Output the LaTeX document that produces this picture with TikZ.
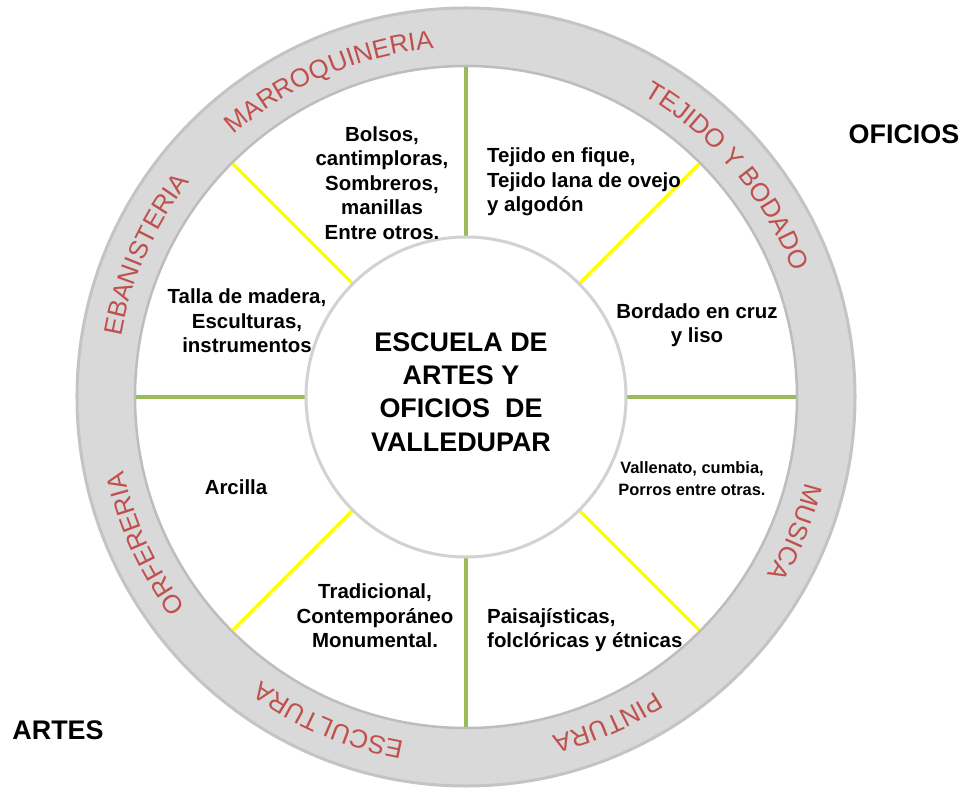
\documentclass[tikz,border=0pt]{standalone}
\usepackage{fontspec}
\setmainfont{Liberation Sans}
\newfontfamily\ringfont{Liberation Sans}
\usetikzlibrary{decorations.text}
\definecolor{ringgray}{HTML}{D9D9D9}
\definecolor{ringedge}{HTML}{C4C4C4}
\definecolor{diskedge}{HTML}{BDBDBD}
\definecolor{hubedge}{HTML}{D2D2D2}
\definecolor{labelred}{HTML}{C0504D}
\definecolor{spokegreen}{HTML}{9BBB59}
\definecolor{spokeyellow}{HTML}{FFFF00}
\begin{document}
\begin{tikzpicture}[x=1bp,y=1bp,
  body/.style={font=\bfseries\fontsize{20.5}{24.5}\selectfont, align=center, inner sep=0pt},
  bodyleft/.style={body, align=left, anchor=west},
  small/.style={font=\bfseries\fontsize{16.5}{22}\selectfont, align=center, inner sep=0pt},
  title/.style={font=\bfseries\fontsize{27}{33.5}\selectfont, align=center, inner sep=0pt},
  corner/.style={font=\bfseries\fontsize{27}{30}\selectfont, inner sep=0pt},
  greenspoke/.style={spokegreen, line width=4bp},
  yellowspoke/.style={spokeyellow, line width=3.5bp},
  ringtext/.style={decorate, decoration={text along path, text align=center,
     text color=labelred, text={|\ringfont\fontsize{26}{26}\selectfont|#1}}}
]
\useasboundingbox (-466,-395) rectangle (501,397);
\fill[white] (-466,-395) rectangle (501,397);
% ring
\draw[draw=ringedge, fill=ringgray, line width=3bp] (0,0) circle[radius=389bp];
\draw[draw=diskedge, fill=white, line width=2.5bp] (0,0) circle[radius=331bp];
% spokes
\foreach \a in {0,90,180,270} \draw[greenspoke] (\a:158bp) -- (\a:330bp);
\foreach \a in {45,135,225,315} \draw[yellowspoke] (\a:158bp) -- (\a:330bp);
% hub
\node[circle, minimum size=320bp, draw=hubedge, fill=white, line width=3bp] (hub) at (0,0) {};
\node[title] (titletext) at (-5,5) {ESCUELA DE\\ARTES Y\\OFICIOS\ \ DE\\VALLEDUPAR};
% ring labels
\foreach \m/\t in {113.4/MARROQUINERIA, 40.2/TEJIDO Y BODADO, 156/EBANISTERIA,
                   204.5/ORFERERIA, 247/ESCULTURA, 293.5/PINTURA, 337.7/MUSICA} {
  \pgfmathsetmacro\sa{\m+50}
  \pgfmathsetmacro\ea{\m-50}
  \path[ringtext=\t] (\sa:350bp) arc[start angle=\sa, end angle=\ea, radius=350bp];
}
% sector texts
\node[body] (bolsos) at (-84,214) {Bolsos,\\cantimploras,\\Sombreros,\\manillas\\Entre otros.};
\node[bodyleft] (tejido) at (21,215) {Tejido en fique,\\Tejido lana de ovejo\\y algodón};
\node[body] (talla) at (-219,76) {Talla de madera,\\Esculturas,\\instrumentos};
\node[body] (bordado) at (231,72) {Bordado en cruz\\y liso};
\node[body] (arcilla) at (-230,-90) {Arcilla};
\node[small] (vallenato) at (226,-82) {Vallenato, cumbia,\\Porros entre otras.};
\node[body] (tradicional) at (-91,-219) {Tradicional,\\Contemporáneo\\Monumental.};
\node[bodyleft] (paisaj) at (21,-233) {Paisajísticas,\\folclóricas y étnicas};
% corner labels
\node[corner] (oficios) at (438,263) {OFICIOS};
\node[corner] (artes) at (-408,-333) {ARTES};
\end{tikzpicture}
\end{document}
